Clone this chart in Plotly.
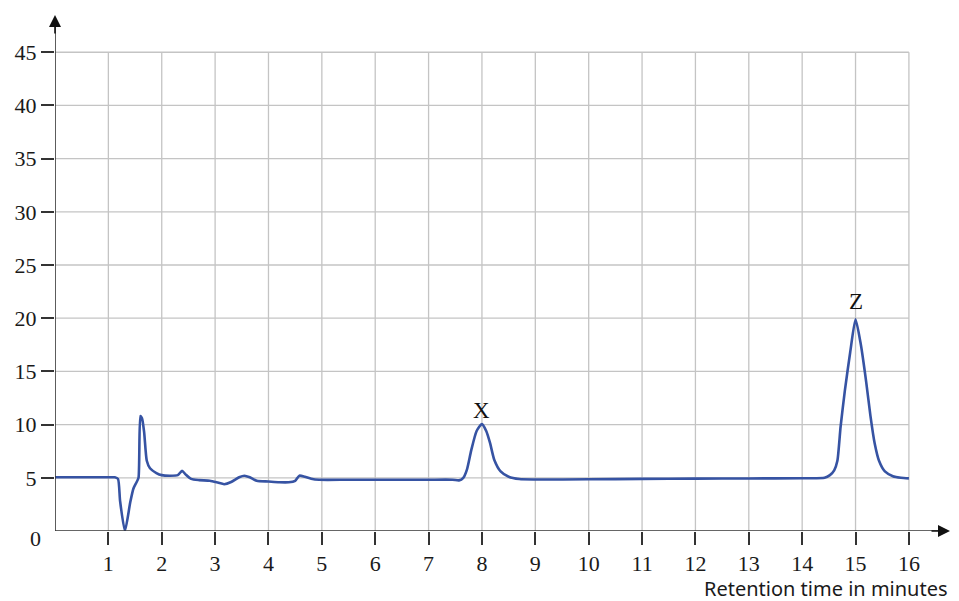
import plotly.graph_objects as go

# Retention time (minutes) and detector response
time_min = [0.0, 0.5, 1.0, 1.12, 1.18, 1.22, 1.31, 1.41, 1.47, 1.53, 1.565, 1.6, 1.63, 1.67, 1.72,
            1.78, 1.9, 2.0, 2.15, 2.3, 2.38, 2.45, 2.55, 2.7, 2.9, 3.05, 3.17, 3.3, 3.45, 3.55,
            3.65, 3.78, 4.0, 4.2, 4.38, 4.5, 4.58, 4.68, 4.8, 4.95, 5.5, 6.5, 7.0, 7.45, 7.57,
            7.65, 7.72, 7.8, 7.9, 8.0, 8.08, 8.15, 8.23, 8.35, 8.5, 8.7, 9.0, 10.0, 11.0, 12.0,
            13.0, 14.0, 14.42, 14.52, 14.6, 14.66, 14.72, 14.8, 14.9, 15.0, 15.1, 15.2, 15.28,
            15.36, 15.44, 15.55, 15.7, 15.85, 16.0]
response = [5.05, 5.05, 5.05, 5.05, 4.9, 2.8, 0.0, 2.7, 4.0, 4.6, 5.0, 10.8, 10.6, 9.3, 6.6,
            5.9, 5.45, 5.25, 5.2, 5.25, 5.65, 5.3, 4.9, 4.78, 4.72, 4.55, 4.4, 4.6, 5.05, 5.2,
            5.05, 4.72, 4.65, 4.58, 4.58, 4.72, 5.2, 5.1, 4.92, 4.82, 4.82, 4.82, 4.82, 4.82, 4.76,
            5.0, 5.8, 7.6, 9.4, 10.05, 9.4, 8.3, 6.7, 5.6, 5.1, 4.88, 4.84, 4.86, 4.9, 4.92,
            4.94, 4.96, 5.0, 5.25, 5.7, 6.6, 9.8, 13.2, 16.8, 19.9, 17.5, 14.0, 10.8,
            8.2, 6.6, 5.6, 5.15, 5.0, 4.95]

x_ticks = list(range(1, 17))
y_ticks = [5, 10, 15, 20, 25, 30, 35, 40, 45]
peak_labels = ["X", "Z"]
peak_pos = [(8.0, 11.3), (15.0, 21.6)]

X_MAX, Y_MAX = 16.77, 48.5
GRID_X, GRID_Y = 16, 45
serif = "Liberation Serif"

fig = go.Figure()
fig.add_trace(go.Scatter(x=time_min, y=response, mode="lines",
                         line=dict(color="#3653a3", width=2.6, shape="spline", smoothing=0.6),
                         hoverinfo="skip", showlegend=False))

shapes = []
for xv in x_ticks:
    shapes.append(dict(type="line", xref="x", yref="y", x0=xv, x1=xv, y0=0, y1=GRID_Y,
                       line=dict(color="#c4c4c4", width=1.3), layer="below"))
for yv in y_ticks:
    shapes.append(dict(type="line", xref="x", yref="y", x0=0, x1=GRID_X, y0=yv, y1=yv,
                       line=dict(color="#c4c4c4", width=1.3), layer="below"))
# axes lines
shapes.append(dict(type="line", xref="x", yref="y", x0=0, x1=X_MAX - 0.2, y0=0, y1=0,
                   line=dict(color="#333333", width=1.6)))
shapes.append(dict(type="line", xref="x", yref="y", x0=0, x1=0, y0=0, y1=Y_MAX - 0.5,
                   line=dict(color="#333333", width=1.6)))

annotations = [
    dict(x=X_MAX, y=0, xref="x", yref="y", ax=-20, ay=0, text="", showarrow=True,
         arrowhead=2, arrowsize=1.5, arrowwidth=1.6, arrowcolor="#111111"),
    dict(x=0, y=Y_MAX, xref="x", yref="y", ax=0, ay=20, text="", showarrow=True,
         arrowhead=2, arrowsize=1.5, arrowwidth=1.6, arrowcolor="#111111"),
    dict(x=0, y=0, xref="x", yref="y", text="0", showarrow=False, xanchor="right",
         xshift=-12, yshift=-7, font=dict(family=serif, size=22, color="#1a1a1a")),
    dict(x=1, y=0, xref="paper", yref="paper", text="Retention time in minutes",
         showarrow=False, xanchor="right", yanchor="top", xshift=0, yshift=-42,
         font=dict(family="Noto Sans", size=20, color="#1a1a1a")),
]
for lab, (px, py) in zip(peak_labels, peak_pos):
    annotations.append(dict(x=px, y=py, xref="x", yref="y", text=lab, showarrow=False,
                            font=dict(family=serif, size=23, color="#111111")))

fig.update_layout(
    width=959, height=601,
    margin=dict(l=55, r=9, t=15, b=70),
    paper_bgcolor="white", plot_bgcolor="white",
    shapes=shapes, annotations=annotations,
    xaxis=dict(range=[0, X_MAX], showgrid=False, zeroline=False, showline=False,
               tickvals=x_ticks, ticks="outside", ticklen=13, tickwidth=1.5,
               tickcolor="#333333",
               tickfont=dict(family=serif, size=22, color="#1a1a1a")),
    yaxis=dict(range=[0, Y_MAX], showgrid=False, zeroline=False, showline=False,
               tickvals=y_ticks, ticks="outside", ticklen=13, tickwidth=1.5,
               tickcolor="#333333",
               tickfont=dict(family=serif, size=22, color="#1a1a1a")),
)

fig.write_html("out.html", config={"displayModeBar": False},
               post_script="document.body.style.margin='0';document.body.style.overflow='hidden';")
